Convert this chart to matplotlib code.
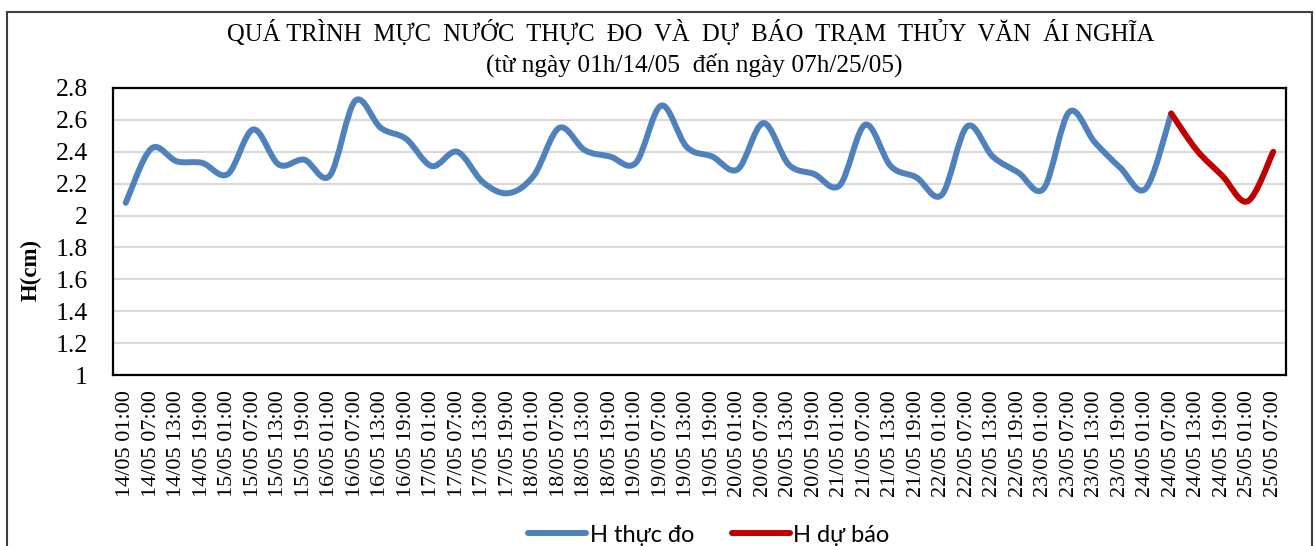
import matplotlib
matplotlib.use("Agg")
import matplotlib.pyplot as plt
import numpy as np
from matplotlib.path import Path
from matplotlib.patches import PathPatch, Rectangle
from matplotlib.lines import Line2D

# ---------------- data ----------------
days = ["14/05", "15/05", "16/05", "17/05", "18/05", "19/05", "20/05",
        "21/05", "22/05", "23/05", "24/05", "25/05"]
hours = ["01:00", "07:00", "13:00", "19:00"]
categories = [f"{d} {h}" for d in days[:-1] for h in hours] + ["25/05 01:00", "25/05 07:00"]

h_thuc_do = [2.08, 2.42, 2.34, 2.33, 2.26, 2.54, 2.32, 2.35, 2.25, 2.72,
             2.55, 2.48, 2.31, 2.40, 2.21, 2.14, 2.25, 2.55, 2.41, 2.37,
             2.33, 2.69, 2.43, 2.37, 2.29, 2.58, 2.32, 2.26, 2.19, 2.57,
             2.31, 2.24, 2.13, 2.56, 2.37, 2.27, 2.17, 2.65, 2.46, 2.30,
             2.17, 2.64]
h_du_bao = [2.64, 2.41, 2.25, 2.09, 2.40]
du_bao_start = 41

series_names = ["H thực đo", "H dự báo"]
colors = ["#4F81BD", "#C00000"]

title = "QUÁ TRÌNH  MỰC  NƯỚC  THỰC  ĐO  VÀ  DỰ  BÁO  TRẠM  THỦY  VĂN  ÁI NGHĨA"
subtitle = "(từ ngày 01h/14/05  đến ngày 07h/25/05)"
ylabel = "H(cm)"
yticks = [1, 1.2, 1.4, 1.6, 1.8, 2, 2.2, 2.4, 2.6, 2.8]


def smooth_path(xs, ys):
    """Excel-like smoothed line (Catmull-Rom as cubic Bezier)."""
    P = np.column_stack([xs, ys]).astype(float)
    n = len(P)
    verts = [P[0]]
    codes = [Path.MOVETO]
    for i in range(n - 1):
        p0 = P[i - 1] if i > 0 else P[i]
        p1 = P[i]
        p2 = P[i + 1]
        p3 = P[i + 2] if i + 2 < n else P[i + 1]
        c1 = p1 + (p2 - p0) / 6.0
        c2 = p2 - (p3 - p1) / 6.0
        verts += [c1, c2, p2]
        codes += [Path.CURVE4] * 3
    return Path(verts, codes)


serif = ["Liberation Serif", "DejaVu Serif"]
sans = ["Lato", "DejaVu Sans"]

W, H = 1315, 546
fig = plt.figure(figsize=(W / 100, H / 100), dpi=100)
fig.patch.set_facecolor("white")

ax = fig.add_axes([113 / W, 1 - 375 / H, (1286 - 113) / W, (375 - 88) / H])

x_all = np.arange(len(categories))
lw = 4.3
ax.add_patch(PathPatch(smooth_path(x_all[:len(h_thuc_do)], h_thuc_do),
                       fill=False, edgecolor=colors[0], lw=lw,
                       capstyle="round", joinstyle="round", zorder=3))
ax.add_patch(PathPatch(smooth_path(x_all[du_bao_start:du_bao_start + len(h_du_bao)], h_du_bao),
                       fill=False, edgecolor=colors[1], lw=lw,
                       capstyle="round", joinstyle="round", zorder=4))

ax.set_xlim(-0.5, len(categories) - 0.5)
ax.set_ylim(1, 2.8)
ax.set_yticks(yticks)
ax.set_yticklabels([f"{v:g}" for v in yticks], fontfamily=serif, fontsize=18.5)
ax.set_xticks(x_all)
ax.set_xticklabels(categories, rotation=90, fontfamily=serif, fontsize=16)
ax.tick_params(axis="x", length=0, pad=11)
ax.tick_params(axis="y", length=0, pad=18)
ax.grid(axis="y", color="#D9D9D9", lw=1.5, zorder=0)
ax.set_axisbelow(True)
for s in ax.spines.values():
    s.set_color("black")
    s.set_linewidth(1.6)

ax.set_ylabel(ylabel, fontfamily=serif, fontsize=16.5, fontweight="bold")
ax.yaxis.set_label_coords((42 - 113) / (1286 - 113), (375 - 270) / (375 - 88))

fig.text(691 / W, 1 - 33 / H, title, ha="center", va="center",
         fontfamily=serif, fontsize=17.7)
fig.text(694 / W, 1 - 65 / H, subtitle, ha="center", va="center",
         fontfamily=serif, fontsize=18.3)

handles = [Line2D([0], [0], color=c, lw=lw, solid_capstyle="round") for c in colors]
fig.legend(handles, series_names, loc="center", bbox_to_anchor=(709 / W, 1 - 535 / H),
           ncol=2, frameon=False, prop={"family": sans, "size": 17},
           handlelength=2.45, handletextpad=0.15, columnspacing=1.6,
           borderaxespad=0, borderpad=0)

# chart-area border
fig.patches.append(Rectangle((7 / W, -0.05), (1312 - 7) / W, 1.05 - 12 / H,
                             transform=fig.transFigure, fill=False,
                             edgecolor="#404040", lw=1.5, zorder=0))

fig.savefig("out.png", dpi=100, facecolor="white")
